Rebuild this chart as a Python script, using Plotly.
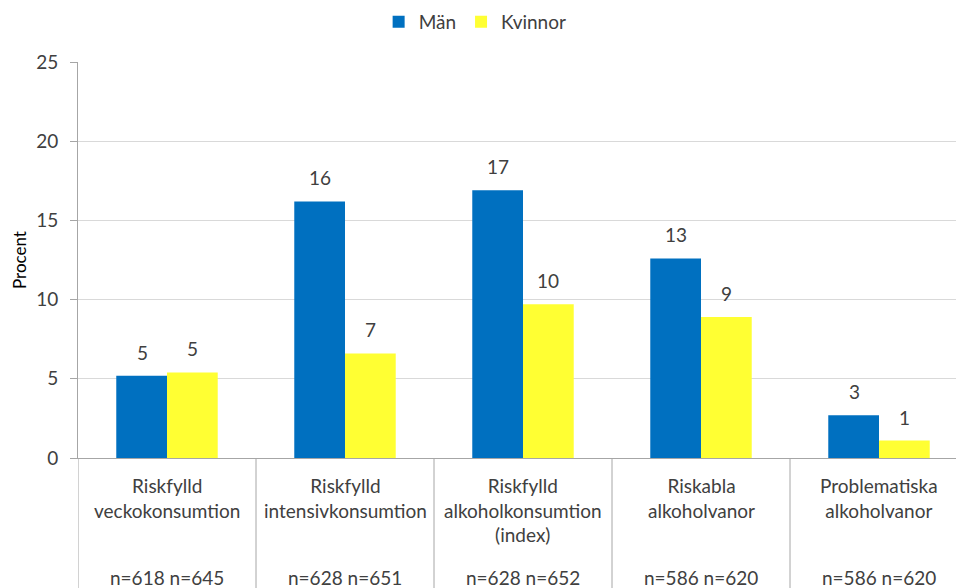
import plotly.graph_objects as go

# Andel (%) med riskfyllda alkoholvanor, uppdelat på kön
categories = [
    "Riskfylld<br>veckokonsumtion",
    "Riskfylld<br>intensivkonsumtion",
    "Riskfylld<br>alkoholkonsumtion<br>(index)",
    "Riskabla<br>alkoholvanor",
    "Problematiska<br>alkoholvanor",
]
sample_sizes = [
    "n=618 n=645",
    "n=628 n=651",
    "n=628 n=652",
    "n=586 n=620",
    "n=586 n=620",
]
men = [5.2, 16.2, 16.9, 12.6, 2.7]
women = [5.4, 6.6, 9.7, 8.9, 1.1]
y_ticks = [0, 5, 10, 15, 20, 25]

BLUE = "#0070C0"
YELLOW = "#FFFF33"
TEXT = "#404040"
AXIS = "#A6A6A6"
GRID = "#D9D9D9"
FONT = "Lato"
FS = 19

W, H = 956, 588
ML, MT, MB = 78, 62, 130
plot_h = H - MT - MB

x_idx = list(range(len(categories)))

fig = go.Figure()
fig.add_trace(go.Bar(name="Män", x=x_idx, y=men, marker=dict(color=BLUE, line_width=0)))
fig.add_trace(go.Bar(name="Kvinnor", x=x_idx, y=women, marker=dict(color=YELLOW, line_width=0)))

annotations = []
# value labels above each bar
for vals, shift in ((men, -25), (women, 25)):
    for i, v in enumerate(vals):
        annotations.append(dict(
            x=i, y=v, xref="x", yref="y", text=f"{v:.0f}", showarrow=False,
            xshift=shift, yshift=10, yanchor="bottom",
            font=dict(family=FONT, size=FS, color=TEXT),
        ))
# category names and sample sizes below the axis
for i, (name, n) in enumerate(zip(categories, sample_sizes)):
    annotations.append(dict(
        x=i, y=-(472 - 458) / plot_h, xref="x", yref="paper", text=name,
        showarrow=False, yanchor="top", align="center",
        font=dict(family=FONT, size=FS, color=TEXT),
    ))
    annotations.append(dict(
        x=i, y=-(577 - 458) / plot_h, xref="x", yref="paper", text=n,
        showarrow=False, yanchor="middle",
        font=dict(family=FONT, size=FS, color=TEXT),
    ))
# y-axis title
annotations.append(dict(
    x=-(78 - 19) / (W - ML), y=(458 - 260) / plot_h, xref="paper", yref="paper",
    xanchor="center", yanchor="middle",
    text="Procent", textangle=-90, showarrow=False,
    font=dict(family=FONT, size=17, color="#000000"),
))

# vertical separators between categories, extending through the label area
shapes = []
for k in range(-1, len(categories) - 1):
    shapes.append(dict(
        type="line", xref="x", yref="paper", x0=k + 0.5, x1=k + 0.5,
        y0=-(H - MT - plot_h + 5) / plot_h, y1=0,
        line=dict(color=AXIS, width=1),
    ))

fig.update_layout(
    width=W, height=H,
    margin=dict(l=ML, r=0, t=MT, b=MB),
    paper_bgcolor="white", plot_bgcolor="white",
    barmode="group", bargap=0.43, bargroupgap=0,
    font=dict(family=FONT, size=FS, color=TEXT),
    showlegend=True,
    legend=dict(
        orientation="h", xref="container", yref="container",
        x=0.497, y=0.995, xanchor="center", yanchor="top",
        font=dict(family=FONT, size=FS, color=TEXT),
        itemwidth=30, tracegroupgap=0,
    ),
    xaxis=dict(
        range=[-0.5, len(categories) - 0.5 - (ML + 178 * 5 - W) / 178],
        showticklabels=False, ticks="", showgrid=False, zeroline=False,
        showline=True, linecolor=AXIS, linewidth=1, fixedrange=True,
    ),
    yaxis=dict(
        range=[0, 25], tickvals=y_ticks, ticks="outside", ticklen=7,
        tickcolor=AXIS, showline=True, linecolor=AXIS, linewidth=1,
        gridcolor=GRID, gridwidth=1, zeroline=False,
        tickfont=dict(family=FONT, size=FS, color=TEXT),
        ticklabelstandoff=8,
    ),
    annotations=annotations,
    shapes=shapes,
)

fig.write_html("out.html")
